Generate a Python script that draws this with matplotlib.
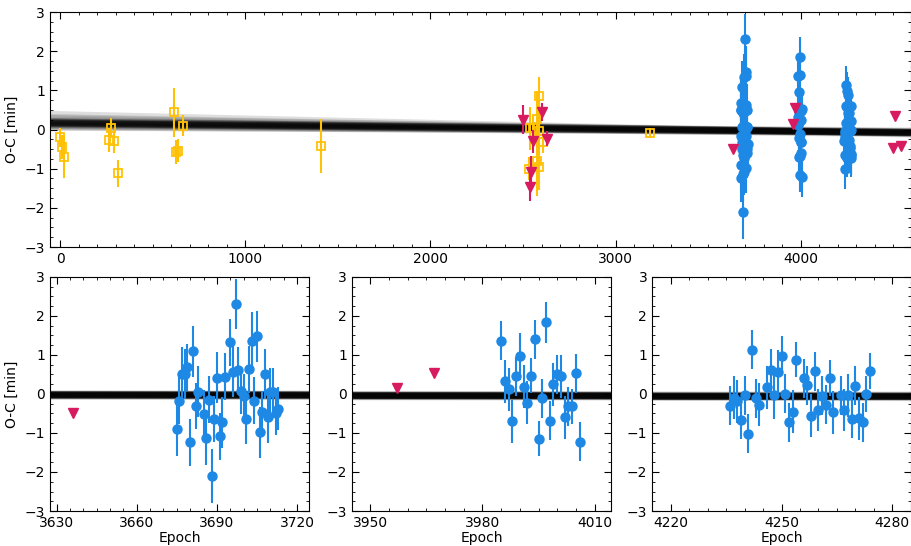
import numpy as np
import matplotlib.pyplot as plt
from matplotlib.ticker import MultipleLocator, FixedLocator

# older ground-based timings (open squares)
old_epoch = [0, 10, 20, 266, 276, 292, 310, 617, 627, 635, 662, 1407,
             2532, 2536, 2552, 2574, 2577, 2584, 2586, 2588, 2610, 3186]
old_oc = [-0.2, -0.45, -0.7, -0.27, 0.05, -0.3, -1.12, 0.44, -0.58, -0.54, 0.1, -0.42,
          -1.0, 0.03, 0.03, -0.8, 0.28, -0.04, 0.85, -0.95, -0.31, -0.08]
old_err = [0.25, 0.3, 0.55, 0.3, 0.25, 0.3, 0.35, 0.63, 0.3, 0.3, 0.27, 0.68,
           0.3, 0.55, 0.35, 0.9, 0.7, 0.45, 0.5, 0.6, 0.3, 0.13]

# other timings (triangles)
tri_epoch = [2502, 2538, 2545, 2556, 2604, 2631, 3636, 3957, 3967, 4496, 4508, 4543]
tri_oc = [0.25, -1.46, -1.08, -0.3, 0.45, -0.23, -0.5, 0.15, 0.54, -0.47, 0.35, -0.41]
tri_err = [0.37, 0.37, 0.4, 0.3, 0.23, 0.2, 0.1, 0.08, 0.05, 0.05, 0.05, 0.05]

# TESS timings (filled circles)
tess_epoch = [3675, 3676, 3677, 3678, 3679, 3680, 3681, 3682, 3683, 3685, 3686, 3687,
              3688, 3689, 3690, 3691, 3692, 3693, 3695, 3696, 3697, 3698, 3699, 3700,
              3701, 3702, 3703, 3704, 3705, 3706, 3707, 3708, 3709, 3710, 3711, 3712, 3713,
              3985, 3986, 3987, 3988, 3989, 3990, 3991, 3992, 3993, 3994, 3995, 3996,
              3997, 3998, 3999, 4000, 4001, 4002, 4003, 4004, 4005, 4006,
              4236, 4237, 4238, 4239, 4240, 4241, 4242, 4243, 4244, 4246, 4247, 4248,
              4249, 4250, 4251, 4252, 4253, 4254, 4256, 4257, 4258, 4259, 4260, 4261,
              4262, 4263, 4264, 4266, 4267, 4268, 4269, 4270, 4271, 4272, 4273, 4274]
tess_oc = [-0.9, -0.17, 0.51, 0.51, 0.68, -1.24, 1.09, -0.31, 0.06, -0.51, -1.13, -0.15,
           -2.1, -0.64, 0.42, -1.08, -0.73, 0.44, 1.33, 0.57, 2.31, 0.61, 0.08, -0.04,
           -0.64, 0.63, 1.36, -0.17, 1.48, -0.98, -0.47, 0.51, -0.6, 0.06, 0.06, -0.49, -0.38,
           1.37, 0.33, 0.12, -0.7, 0.46, 0.97, 0.19, -0.22, 0.47, 1.4, -1.15, -0.11,
           1.84, -0.68, 0.25, 0.51, 0.46, -0.6, -0.32, -0.31, 0.53, -1.22,
           -0.3, -0.09, -0.19, -0.66, -0.03, -1.02, 1.13, -0.11, -0.28, 0.17, 0.61, -0.03,
           0.57, 0.98, 0.0, -0.72, -0.45, 0.88, 0.41, 0.23, -0.56, 0.58, -0.41, -0.04,
           -0.28, 0.41, -0.47, -0.03, -0.41, -0.03, -0.64, 0.21, -0.62, -0.72, 0.0, 0.59]
tess_err = [0.7, 0.6, 0.7, 0.65, 0.6, 0.6, 0.65, 0.6, 0.65, 0.6, 0.7, 0.6,
            0.69, 0.6, 0.65, 0.6, 0.65, 0.6, 0.6, 0.65, 0.65, 0.6, 0.6, 0.55,
            0.65, 0.6, 0.75, 0.6, 0.65, 0.65, 0.55, 0.65, 0.65, 0.6, 0.6, 0.55, 0.55,
            0.5, 0.55, 0.55, 0.55, 0.5, 0.6, 0.55, 0.55, 0.45, 0.5, 0.45, 0.5,
            0.53, 0.5, 0.55, 0.5, 0.55, 0.55, 0.5, 0.45, 0.5, 0.5,
            0.5, 0.55, 0.55, 0.5, 0.5, 0.5, 0.5, 0.5, 0.55, 0.55, 0.55, 0.6,
            0.55, 0.5, 0.5, 0.5, 0.55, 0.45, 0.5, 0.5, 0.55, 0.5, 0.55, 0.5,
            0.5, 0.45, 0.55, 0.5, 0.55, 0.55, 0.5, 0.5, 0.55, 0.5, 0.45, 0.45]

# posterior draws of the linear ephemeris: O-C = c + s*1e-5*(E - 3900)
model_c = [-0.03, -0.05, -0.04, -0.02, -0.06, -0.035, -0.045, -0.025, -0.055, -0.04,
           -0.03, -0.05, -0.01, -0.07, -0.04, -0.035, -0.045, -0.03, -0.05, -0.04,
           0.0, -0.08, -0.04, -0.02, -0.06]
model_s = [-5, -6, -4, -5.5, -5, -7, -3.5, -6, -4.5, -5,
           -8, -5, -5.5, -4, -9, -5, -6.5, -2, -5, -5.5,
           -4, -6, -11, -5, -3]

# zoom panels: x ranges and tick positions
zoom_xlims = [(3627.5, 3724.5), (3945.1, 4014.4), (4214.9, 4285.1)]
zoom_ticks = [[3630, 3660, 3690, 3720], [3950, 3980, 4010], [4220, 4250, 4280]]

yellow = '#FFC107'
red = '#D81B60'
blue = '#1E88E5'


def draw(ax, xlim):
    xs = np.array(xlim, dtype=float)
    for c, s in zip(model_c, model_s):
        ax.plot(xs, c + s * 1e-5 * (xs - 3900), color='k', lw=4.5, alpha=0.13,
                solid_capstyle='butt', zorder=1)
    ax.errorbar(old_epoch, old_oc, yerr=old_err, fmt='s', ms=6, mfc='none',
                mec=yellow, mew=1.3, ecolor=yellow, elinewidth=1.5, zorder=3)
    ax.errorbar(tess_epoch, tess_oc, yerr=tess_err, fmt='o', ms=6.5, color=blue,
                ecolor=blue, elinewidth=1.5, zorder=4)
    ax.errorbar(tri_epoch, tri_oc, yerr=tri_err, fmt='v', ms=6.5, color=red,
                ecolor=red, elinewidth=1.5, zorder=5)
    ax.set_xlim(xlim)
    ax.set_ylim(-3, 3)
    ax.yaxis.set_major_locator(MultipleLocator(1))
    ax.yaxis.set_minor_locator(MultipleLocator(0.25))
    ax.tick_params(which='both', direction='in', top=True, right=True, labelsize=10)
    ax.tick_params(which='major', length=5)
    ax.tick_params(which='minor', length=2.5)


fig = plt.figure(figsize=(9.12, 5.46), dpi=100)

ax_top = fig.add_axes([0.0548, 0.5476, 0.944, 0.4304])
draw(ax_top, (-55, 4595))
ax_top.xaxis.set_major_locator(MultipleLocator(1000))
ax_top.xaxis.set_minor_locator(MultipleLocator(100))
ax_top.set_ylabel('O-C [min]', labelpad=4)

lefts = [0.0548, 0.386, 0.715]
for i in range(3):
    ax = fig.add_axes([lefts[i], 0.0641, 0.284, 0.4286])
    draw(ax, zoom_xlims[i])
    ax.xaxis.set_major_locator(FixedLocator(zoom_ticks[i]))
    ax.xaxis.set_minor_locator(MultipleLocator(5))
    ax.set_xlabel('Epoch', labelpad=1)
    if i == 0:
        ax.set_ylabel('O-C [min]', labelpad=4)

fig.savefig('out.png', dpi=100)
